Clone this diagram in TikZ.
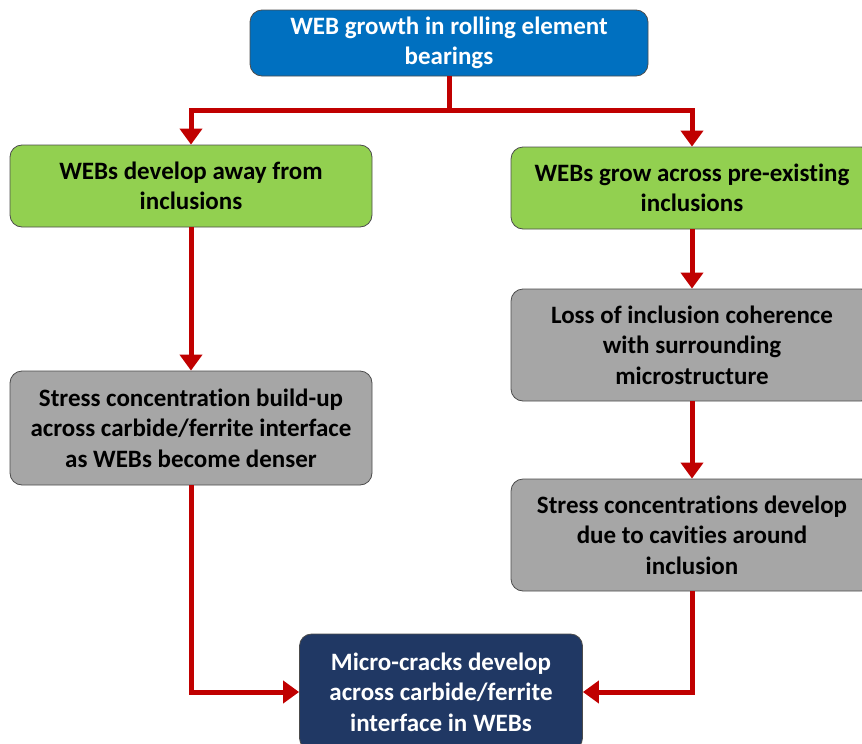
\documentclass[tikz,border=0pt]{standalone}
\usepackage{fontspec}
\setmainfont[Ligatures=NoCommon]{Carlito}
\usetikzlibrary{arrows.meta}
\definecolor{topblue}{HTML}{0070C0}
\definecolor{stepgreen}{HTML}{92D050}
\definecolor{stepgray}{HTML}{A6A6A6}
\definecolor{endnavy}{HTML}{203864}
\definecolor{linkred}{HTML}{C00000}
\tikzset{
  box/.style={draw=black!70, line width=0.8pt, rounded corners=12pt, align=center,
              font=\fontsize{25}{30.5}\selectfont\bfseries, minimum width=362pt, inner sep=2pt},
  link/.style={draw=linkred, line width=5pt},
  arrow/.style={link, -{Triangle[length=16pt, width=22pt]}}
}
\begin{document}
\begin{tikzpicture}[x=1pt, y=-1pt]
                    \useasboundingbox (0,0) rectangle (862,744);

                    % Top box
                    \node[box, fill=topblue, text=white, minimum width=398pt, minimum height=66pt] (top) at (449,43) {WEB growth in rolling element\\bearings};

                    % Two branches
                    \node[box, fill=stepgreen, minimum height=82pt] (away) at (191,186) {WEBs develop away from\\inclusions};
                    \node[box, fill=stepgreen, minimum height=82pt] (across) at (692,188) {WEBs grow across pre-existing\\inclusions};

                    % Intermediate steps
                    \node[box, fill=stepgray, minimum height=114pt] (stress) at (191,428) {Stress concentration build-up\\across carbide/ferrite interface\\as WEBs become denser};
                    \node[box, fill=stepgray, minimum height=112pt] (loss) at (692,345) {Loss of inclusion coherence\\with surrounding\\microstructure};
                    \node[box, fill=stepgray, minimum height=112pt] (cavity) at (692,535) {Stress concentrations develop\\due to cavities around\\inclusion};

                    % Final result
                    \node[box, fill=endnavy, text=white, minimum width=283pt, minimum height=116pt] (cracks) at (441,692) {Micro-cracks develop\\across carbide/ferrite\\interface in WEBs};

                    % Connectors
                    \coordinate (split) at (449,110);
                    \draw[link] (top) -- ([yshift=-2.5pt]split);
                    \draw[arrow] (split) -| (away);
                    \draw[arrow] (split) -| (across);
                    \draw[arrow] (away) -- (stress);
                    \draw[arrow] (across) -- (loss);
                    \draw[arrow] (loss) -- (cavity);
                    \draw[arrow] (stress.south) |- (cracks);
                    \draw[arrow] (cavity.south) |- (cracks);
                \end{tikzpicture}
\end{document}
